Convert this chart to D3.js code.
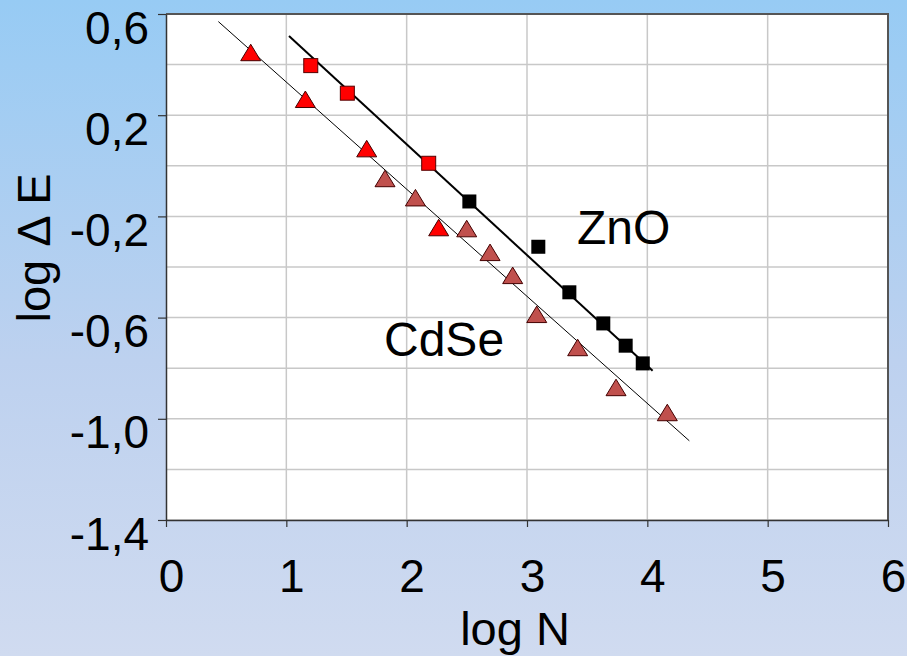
<!DOCTYPE html>
<html>
<head>
<meta charset="utf-8">
<script src="https://cdn.jsdelivr.net/npm/d3@7"></script>
<style>
  html, body { margin: 0; padding: 0; }
  svg { display: block; font-family: "Liberation Sans", Arial, sans-serif; }
</style>
</head>
<body>
<svg id="chart" width="907" height="656"></svg>
<script>
// Data (log N, log dE)
const cdseRed = [[0.704, 0.445], [1.158, 0.260], [1.668, 0.065], [2.266, -0.247]];
const cdseBrown = [[1.820, -0.053], [2.073, -0.129], [2.499, -0.251], [2.693, -0.345],
  [2.881, -0.436], [3.081, -0.590], [3.421, -0.721], [3.740, -0.879], [4.166, -0.978]];
const znoRed = [[1.203, 0.396], [1.507, 0.287], [2.183, 0.010]];
const znoBlack = [[2.521, -0.141], [3.094, -0.320], [3.352, -0.500], [3.634, -0.623],
  [3.820, -0.711], [3.962, -0.781]];
const cdseFit = [[0.435, 0.570], [4.349, -1.087]];
const znoFit = [[1.022, 0.513], [4.044, -0.810]];
const xTicks = [0, 1, 2, 3, 4, 5, 6];
const yTicks = [0.6, 0.2, -0.2, -0.6, -1.0, -1.4];
const yGrid = [0.6, 0.4, 0.2, 0, -0.2, -0.4, -0.6, -0.8, -1.0, -1.2, -1.4];

const svg = d3.select('#chart');
const W = 907, H = 656;
const margin = { top: 14, right: 19, bottom: 136, left: 166 };
const width = W - margin.left - margin.right,
      height = H - margin.top - margin.bottom;

/**
 * Background.
 */
const defs = svg.append('defs');
const grad = defs.append('linearGradient').attr('id', 'bg')
  .attr('x1', 0).attr('y1', 0).attr('x2', 0).attr('y2', 1);
grad.append('stop').attr('offset', '0%').attr('stop-color', '#97cbf4');
grad.append('stop').attr('offset', '55%').attr('stop-color', '#bdd1ef');
grad.append('stop').attr('offset', '100%').attr('stop-color', '#d0dbf0');
svg.append('rect').attr('width', W).attr('height', H).attr('fill', 'url(#bg)');

const g = svg.append('g').attr('transform', 'translate(' + margin.left + ',' + margin.top + ')');

const x = d3.scaleLinear().domain([0, 6]).range([0, width]);
const y = d3.scaleLinear().domain([-1.4, 0.6]).range([height, 0]);

const locale = d3.formatLocale({ decimal: ',', thousands: '.', grouping: [3], currency: ['', ''], minus: '-' });
const fmtY = locale.format('.1f');

// Plot area
g.append('rect').attr('width', width).attr('height', height).attr('fill', '#fff');

// Grid
g.append('g').selectAll('line').data(yGrid).join('line')
  .attr('x1', 0).attr('x2', width)
  .attr('y1', d => y(d)).attr('y2', d => y(d))
  .attr('stroke', '#c8c8c8').attr('stroke-width', 1.5);
g.append('g').selectAll('line').data(xTicks.slice(1, -1)).join('line')
  .attr('x1', d => x(d)).attr('x2', d => x(d))
  .attr('y1', 0).attr('y2', height)
  .attr('stroke', '#c8c8c8').attr('stroke-width', 1.5);

// Frame top / right
g.append('path').attr('d', 'M0,0H' + width + 'V' + height)
  .attr('fill', 'none').attr('stroke', '#555').attr('stroke-width', 2);

// Axes
const xAxis = g.append('g').attr('transform', 'translate(0,' + height + ')')
  .call(d3.axisBottom(x).tickValues(xTicks).tickSize(7).tickSizeOuter(0).tickFormat(d3.format('d')));
const yAxis = g.append('g')
  .call(d3.axisLeft(y).tickValues(yTicks).tickSize(8).tickSizeOuter(0).tickFormat(fmtY));

[xAxis, yAxis].forEach(a => {
  a.select('.domain').attr('stroke', '#333').attr('stroke-width', 1.5);
  a.selectAll('.tick line').attr('stroke', '#333').attr('stroke-width', 1.2);
  a.selectAll('text').attr('fill', '#000').attr('font-size', 46)
    .attr('font-family', '"Liberation Sans", Arial, sans-serif');
});
xAxis.selectAll('text').attr('dy', null).attr('y', 72).attr('x', 5);
yAxis.selectAll('text').attr('dy', null).attr('x', -17).attr('y', 29);

// Axis titles
g.append('text').attr('x', 349).attr('y', 631)
  .attr('text-anchor', 'middle').attr('font-size', 47).text('log N');
g.append('text').attr('transform', 'translate(-116,' + 234 + ') rotate(-90)')
  .attr('text-anchor', 'middle').attr('font-size', 47).text('log \u0394 E');

/**
 * Fit lines.
 */
const line = d3.line().x(d => x(d[0])).y(d => y(d[1]));
g.append('path').datum(cdseFit).attr('d', line)
  .attr('fill', 'none').attr('stroke', '#000').attr('stroke-width', 1);
g.append('path').datum(znoFit).attr('d', line)
  .attr('fill', 'none').attr('stroke', '#000').attr('stroke-width', 2);

/**
 * Markers.
 */
function triangles(data, fill) {
  g.append('g').selectAll('path').data(data).join('path')
    .attr('transform', d => 'translate(' + x(d[0]) + ',' + y(d[1]) + ')')
    .attr('d', 'M0,-9L10,7.5L-10,7.5Z')
    .attr('fill', fill).attr('stroke', '#400').attr('stroke-width', 1);
}
function squares(data, fill, stroke, s) {
  g.append('g').selectAll('rect').data(data).join('rect')
    .attr('x', d => x(d[0]) - s / 2).attr('y', d => y(d[1]) - s / 2)
    .attr('width', s).attr('height', s)
    .attr('fill', fill).attr('stroke', stroke).attr('stroke-width', stroke === 'none' ? 0 : 1);
}
triangles(cdseBrown, '#c0504d');
triangles(cdseRed, '#ff0000');
squares(znoRed, '#ff0000', '#500', 14);
squares(znoBlack, '#000', 'none', 14);

// Series labels
g.append('text').attr('x', 411).attr('y', 230).attr('font-size', 48).text('ZnO');
g.append('text').attr('x', 218).attr('y', 342).attr('font-size', 48).text('CdSe');
</script>
</body>
</html>
